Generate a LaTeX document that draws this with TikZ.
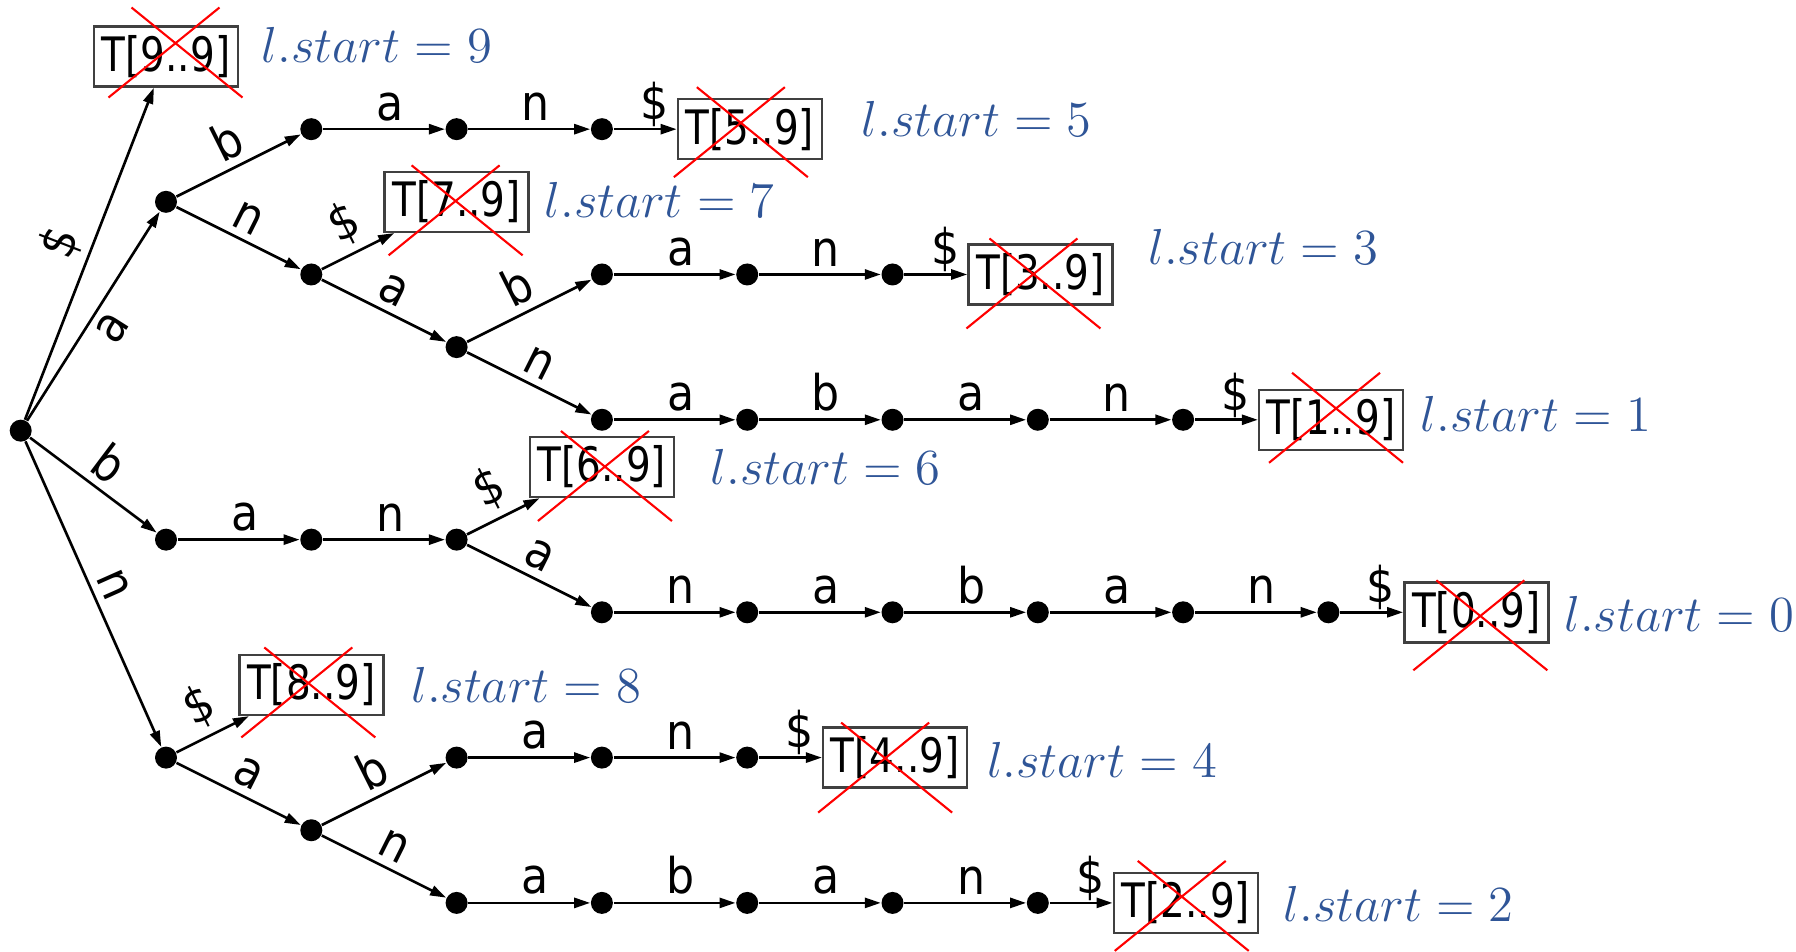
\documentclass[tikz,border=0pt]{standalone}
\usepackage{fontspec}
\setmainfont{DejaVu Sans}[FakeStretch=0.82]
\newfontfamily\labfont{DejaVu Sans}[FakeStretch=0.9]
\usetikzlibrary{arrows.meta,positioning,calc}
\definecolor{startblue}{HTML}{2F5597}
\tikzset{
  dot/.style={circle,fill=black,inner sep=0pt,minimum size=2.2mm},
  sufbox/.style={draw=black!75,line width=0.7pt,fill=white,minimum width=14.4mm,minimum height=6mm,inner sep=0pt,font=\fontsize{13.5}{15}\selectfont},
  edge/.style={line width=0.75pt,-{Triangle[length=1.6mm,width=1mm]}},
  lab/.style={font=\labfont\fontsize{14}{16}\selectfont,inner sep=2pt},
  dollar/.style={lab,above,pos=0.65,inner sep=0.3pt},
  startlab/.style={anchor=west,inner sep=0pt,text=startblue,font=\fontsize{14}{16}\selectfont},
  xline/.style={red,line width=0.6pt}
}
\begin{document}
\begin{tikzpicture}[x=7.265mm,y=7.265mm]
 \useasboundingbox (-0.285,-7.175) rectangle (24.436,5.928);
 % inner nodes
 \foreach \p/\x/\y in {r/0/0, a/2/3.15, ab/4/4.15, aba/6/4.15, aban/8/4.15, an/4/2.15, ana/6/1.15,
   anab/8/2.15, anaba/10/2.15, anaban/12/2.15, anan/8/0.15, anana/10/0.15, ananab/12/0.15,
   ananaba/14/0.15, ananaban/16/0.15, b/2/-1.5, ba/4/-1.5, ban/6/-1.5, bana/8/-2.5, banan/10/-2.5,
   banana/12/-2.5, bananab/14/-2.5, bananaba/16/-2.5, bananaban/18/-2.5, n/2/-4.5, na/4/-5.5,
   nab/6/-4.5, naba/8/-4.5, naban/10/-4.5, nan/6/-6.5, nana/8/-6.5, nanab/10/-6.5, nanaba/12/-6.5,
   nanaban/14/-6.5}
   {\node[dot] (\p) at (\x,\y) {};}
 % leaves
 \node[sufbox] (t9) at (2,5.15) {T[9..9]};
 \node[sufbox] (t7) at (6,3.15) {T[7..9]};
 \node[sufbox] (t6) at (8,-0.5) {T[6..9]};
 \node[sufbox] (t8) at (4,-3.5) {T[8..9]};
 \node[sufbox,right=6.3mm of aban] (t5) {T[5..9]};
 \node[sufbox,right=6.3mm of anaban] (t3) {T[3..9]};
 \node[sufbox,right=6.3mm of ananaban] (t1) {T[1..9]};
 \node[sufbox,right=6.3mm of bananaban] (t0) {T[0..9]};
 \node[sufbox,right=6.3mm of naban] (t4) {T[4..9]};
 \node[sufbox,right=6.3mm of nanaban] (t2) {T[2..9]};
 % edges
 \draw[edge] (r) -- node[lab,sloped,below]{a} (a);
 \foreach \u/\v/\c in {r/t9/\$, r/b/b, r/n/n, a/ab/b, a/an/n, an/t7/\$, an/ana/a, ana/anab/b, ana/anan/n,
   ban/t6/\$, ban/bana/a, n/t8/\$, n/na/a, na/nab/b, na/nan/n}
   \draw[edge] (\u) -- node[lab,sloped,above]{\c} (\v);
 \foreach \u/\v/\c in {ab/aba/a, aba/aban/n, anab/anaba/a, anaba/anaban/n, anan/anana/a, anana/ananab/b,
   ananab/ananaba/a, ananaba/ananaban/n, b/ba/a, ba/ban/n, bana/banan/n, banan/banana/a, banana/bananab/b,
   bananab/bananaba/a, bananaba/bananaban/n, nab/naba/a, naba/naban/n, nan/nana/a, nana/nanab/b,
   nanab/nanaba/a, nanaba/nanaban/n}
   \draw[edge] (\u) -- node[lab,above,pos=0.55]{\c} (\v);
 \foreach \u/\v in {aban/t5, anaban/t3, ananaban/t1, bananaban/t0, naban/t4, nanaban/t2}
   \draw[edge] (\u) -- node[dollar]{\$} (\v);
 % crossed out leaves
 \foreach \t/\dx/\dy in {t9/0.95/0.4, t5/-0.9/-0.3, t7/-0.1/-0.85, t3/-0.7/-0.9, t1/0.5/0.2,
   t6/0.3/-0.9, t0/0.4/-1.3, t8/-0.3/-0.75, t4/-1.0/-1.0, t2/-0.4/-0.3}
   \draw[xline,shift={($(\t)+(\dx mm,\dy mm)$)}] (-4.4mm,4.5mm) -- (6.7mm,-4.5mm) (-6.7mm,-4.5mm) -- (4.4mm,4.5mm);
 % start labels
 \foreach \t/\g/\h/\s in {t9/2.2/1.2/9, t5/3.8/1.0/5, t7/1.4/0.2/7, t3/3.4/2.8/3, t1/1.6/0.6/1,
   t6/3.5/0/6, t0/1.4/-0.2/0, t8/2.6/0/8, t4/1.8/-0.2/4, t2/2.4/-0.1/2}
   \node[startlab] at ($(\t.east)+(\g mm,\h mm)$) {$l.start=\s$};
\end{tikzpicture}
\end{document}
